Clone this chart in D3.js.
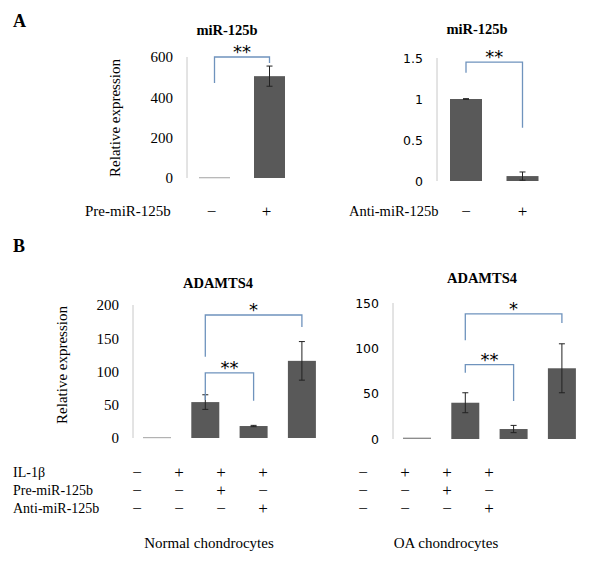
<!DOCTYPE html>
<html>
<head>
<meta charset="utf-8">
<script src="https://cdn.jsdelivr.net/npm/d3@7"></script>
<style>
  body { margin: 0; background: #fff; }
  svg text { fill: #000; }
</style>
</head>
<body>
<div id="chart"></div>
<script>
// data
var aCats = ["−", "+"];
var aPreValues = [3, 505];
var aPreErrors = [0, 50];
var aAntiValues = [1.0, 0.06];
var aAntiErrors = [0.004, 0.05];

var bCats = ["ctrl", "IL", "IL+pre", "IL+anti"];
var bNormalValues = [1, 54, 18, 116];
var bNormalErrors = [0.4, 11, 1, 29];
var bOAValues = [1.5, 40, 11, 78];
var bOAErrors = [0.8, 11, 4, 27];

var aPreTicks = [0, 200, 400, 600];
var aAntiTicks = [0, 0.5, 1, 1.5];
var bNormalTicks = [0, 50, 100, 150, 200];
var bOATicks = [0, 50, 100, 150];

// significance brackets: [from bar, to bar, top, left end, right end, label]
var aPreSig = [[0, 1, 600, 471, 570, "**"]];
var aAntiSig = [[0, 1, 1.45, 1.32, 0.65, "**"]];
var bNormalSig = [[1, 3, 185, 122, 167, "*"], [1, 2, 98, 57, 56, "**"]];
var bOASig = [[1, 3, 138, 109, 128, "*"], [1, 2, 82, 73, 42, "**"]];

var tableRows = ["IL-1β", "Pre-miR-125b", "Anti-miR-125b"];
var tableSigns = [["−", "+", "+", "+"], ["−", "−", "+", "−"], ["−", "−", "−", "+"]];

var serif = "'Liberation Serif', 'Times New Roman', serif";
var sans = "'DejaVu Sans', Verdana, sans-serif";

var svg = d3.select("#chart").append("svg")
  .attr("width", 600)
  .attr("height", 561);

function panel(o) {
  var n = o.cats.length;
  var pi = 1 - o.barW / o.step;
  var po = o.gap / o.step;
  var x = d3.scaleBand()
    .domain(o.cats)
    .range([o.axisX, o.axisX + o.step * (n - pi + 2 * po)])
    .paddingInner(pi)
    .paddingOuter(po);
  var y = d3.scaleLinear().domain(o.domain).range([o.zeroY, o.topY]);
  var g = svg.append("g");

  // tick labels
  var ax = g.append("g")
    .attr("transform", "translate(" + o.axisX + ",0)")
    .call(d3.axisLeft(y).tickValues(o.ticks).tickSize(0).tickPadding(14)
      .tickFormat(d3.format("")));
  ax.select(".domain").remove();
  ax.selectAll("text")
    .style("font-family", o.tickFont)
    .style("font-size", o.tickSize + "px")
    .attr("fill", "#222");

  // axis line
  g.append("line")
    .attr("x1", o.axisX).attr("x2", o.axisX)
    .attr("y1", y(o.domain[1])).attr("y2", y(0))
    .attr("stroke", "#c8c8c8").attr("stroke-width", 1);

  // bars
  g.selectAll(".bar")
    .data(o.values)
    .enter()
    .append("rect")
      .attr("x", function(d, i) { return x(o.cats[i]); })
      .attr("y", function(d) { return y(d); })
      .attr("width", x.bandwidth())
      .attr("height", function(d) { return Math.max(0.8, y(0) - y(d)); })
      .attr("fill", function(d) { return (y(0) - y(d)) < 2 ? "#8c8c8c" : "#595959"; });

  // error bars
  var eb = g.selectAll(".err")
    .data(o.values.map(function(d, i) { return {v: d, e: o.errors[i], c: o.cats[i]}; })
      .filter(function(d) { return d.e > 0 && (y(0) - y(d.v)) > 2; }))
    .enter().append("g")
      .attr("stroke", "#222").attr("stroke-width", 1);
  var cx = function(d) { return x(d.c) + x.bandwidth() / 2; };
  eb.append("line")
    .attr("x1", cx).attr("x2", cx)
    .attr("y1", function(d) { return y(d.v + d.e); })
    .attr("y2", function(d) { return y(Math.max(0, d.v - d.e)); });
  eb.append("line")
    .attr("x1", function(d) { return cx(d) - 3; }).attr("x2", function(d) { return cx(d) + 3; })
    .attr("y1", function(d) { return y(d.v + d.e); }).attr("y2", function(d) { return y(d.v + d.e); });
  eb.append("line")
    .attr("x1", function(d) { return cx(d) - 3; }).attr("x2", function(d) { return cx(d) + 3; })
    .attr("y1", function(d) { return y(Math.max(0, d.v - d.e)); })
    .attr("y2", function(d) { return y(Math.max(0, d.v - d.e)); });

  // brackets
  o.sig.forEach(function(s) {
    var x1 = x(o.cats[s[0]]) + x.bandwidth() / 2;
    var x2 = x(o.cats[s[1]]) + x.bandwidth() / 2;
    g.append("path")
      .attr("d", "M" + x1 + "," + y(s[3]) + "V" + y(s[2]) + "H" + x2 + "V" + y(s[4]))
      .attr("fill", "none")
      .attr("stroke", "#6f93bd")
      .attr("stroke-width", 1.3);
    g.append("text")
      .attr("x", (x1 + x2) / 2)
      .attr("y", y(s[2]) + 1)
      .attr("text-anchor", "middle")
      .style("font-family", "'DejaVu Sans', sans-serif")
      .style("font-size", "18px")
      .attr("fill", "#444")
      .text(s[5]);
  });

  // title
  g.append("text")
    .attr("x", o.titleX)
    .attr("y", o.titleY)
    .attr("text-anchor", "middle")
    .style("font-family", serif)
    .style("font-weight", "bold")
    .style("font-size", "14.5px")
    .text(o.title);

  return x;
}

// panel A, left
var xA1 = panel({
  cats: aCats, values: aPreValues, errors: aPreErrors, sig: aPreSig,
  axisX: 187, step: 55, barW: 31, gap: 12,
  domain: [0, 600], zeroY: 178, topY: 57, ticks: aPreTicks,
  tickFont: serif, tickSize: 15,
  title: "miR-125b", titleX: 227, titleY: 35
});

// panel A, right
var xA2 = panel({
  cats: aCats, values: aAntiValues, errors: aAntiErrors, sig: aAntiSig,
  axisX: 437, step: 56.5, barW: 32, gap: 13,
  domain: [0, 1.5], zeroY: 181, topY: 58, ticks: aAntiTicks,
  tickFont: sans, tickSize: 12.5,
  title: "miR-125b", titleX: 477, titleY: 34
});

// panel B, left
var xB1 = panel({
  cats: bCats, values: bNormalValues, errors: bNormalErrors, sig: bNormalSig,
  axisX: 133, step: 48.3, barW: 28, gap: 10,
  domain: [0, 200], zeroY: 438, topY: 305, ticks: bNormalTicks,
  tickFont: serif, tickSize: 15,
  title: "ADAMTS4", titleX: 218, titleY: 288
});

// panel B, right
var xB2 = panel({
  cats: bCats, values: bOAValues, errors: bOAErrors, sig: bOASig,
  axisX: 393, step: 48.3, barW: 28, gap: 10,
  domain: [0, 150], zeroY: 439, topY: 303, ticks: bOATicks,
  tickFont: sans, tickSize: 12.5,
  title: "ADAMTS4", titleX: 482, titleY: 283
});

function label(x, y, txt, size, anchor, extra) {
  var t = svg.append("text")
    .attr("x", x).attr("y", y)
    .attr("text-anchor", anchor || "start")
    .style("font-family", serif)
    .style("font-size", size + "px")
    .text(txt);
  if (extra) extra(t);
  return t;
}

function sign(x, y, txt) {
  return svg.append("text")
    .attr("x", x).attr("y", y)
    .attr("text-anchor", "middle")
    .style("font-family", serif)
    .style("font-size", "17px")
    .attr("fill", "#222")
    .text(txt);
}

// panel letters
label(13, 27, "A", 18, "start", function(t) { t.style("font-weight", "bold"); });
label(13, 252, "B", 18, "start", function(t) { t.style("font-weight", "bold"); });

// y axis titles
label(0, 0, "Relative expression", 15, "middle", function(t) {
  t.attr("transform", "translate(120,118) rotate(-90)");
});
label(0, 0, "Relative expression", 15, "middle", function(t) {
  t.attr("transform", "translate(67,365) rotate(-90)");
});

// panel A treatment rows
label(85, 216, "Pre-miR-125b", 15);
label(349, 216, "Anti-miR-125b", 14.5);
aCats.forEach(function(c) {
  sign(xA1(c) + xA1.bandwidth() / 2 - 3, 217, c);
  sign(xA2(c) + xA2.bandwidth() / 2, 217, c);
});

// panel B treatment table
var colsL = d3.scalePoint().domain(d3.range(4)).range([137, 263]);
var colsR = d3.scalePoint().domain(d3.range(4)).range([363, 489]);
var rowY = d3.scalePoint().domain(d3.range(3)).range([477, 513]);
tableRows.forEach(function(r, i) {
  label(13, rowY(i), r, 14);
  tableSigns[i].forEach(function(s, j) {
    sign(colsL(j), rowY(i) + 1, s);
    sign(colsR(j), rowY(i) + 1, s);
  });
});

label(209, 548, "Normal chondrocytes", 15, "middle");
label(446, 548, "OA chondrocytes", 15, "middle");
</script>
</body>
</html>
